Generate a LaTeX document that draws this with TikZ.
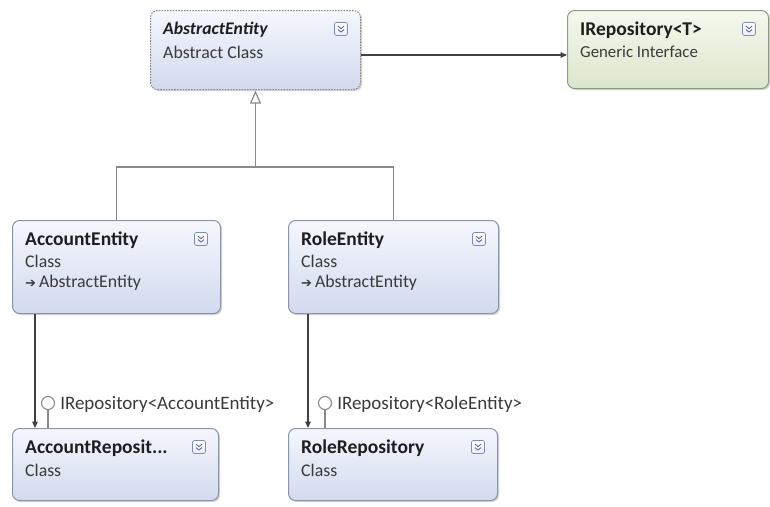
\documentclass[tikz,border=0pt]{standalone}
\usepackage{fontspec}
\setmainfont{Carlito}
\newfontfamily\symfont{DejaVu Sans}
\usetikzlibrary{arrows.meta,shadows,calc}

\definecolor{clstop}{HTML}{F5F7FD}
\definecolor{clsbot}{HTML}{D2DAEE}
\definecolor{clsline}{HTML}{8C95A8}
\definecolor{ifctop}{HTML}{F5F8EE}
\definecolor{ifcbot}{HTML}{DCE6CB}
\definecolor{ifcline}{HTML}{8E9886}
\definecolor{inkdark}{HTML}{1E1E1E}
\definecolor{inksoft}{HTML}{3A3A3A}
\definecolor{wire}{HTML}{8A8A8A}
\definecolor{wiredark}{HTML}{404040}
\definecolor{iconline}{HTML}{7E8CB8}

\tikzset{
  umlbox/.style={anchor=north west, inner sep=0pt, rounded corners=7pt,
    line width=1pt, draw=clsline, top color=clstop, bottom color=clsbot,
    drop shadow={shadow xshift=1.6pt, shadow yshift=-1.6pt, fill=black!30, opacity=.55}},
  abstractbox/.style={umlbox, draw=black!45, dash pattern=on 1.6pt off 1.2pt},
  ifcbox/.style={umlbox, draw=ifcline, top color=ifctop, bottom color=ifcbot},
  titletext/.style={anchor=west, inner sep=0pt, font=\bfseries\fontsize{19.5}{22}\selectfont, text=inkdark},
  subtext/.style={anchor=west, inner sep=0pt, font=\fontsize{17.8}{20}\selectfont, text=inksoft},
  lbltext/.style={anchor=west, inner sep=0pt, font=\fontsize{19}{21}\selectfont, text=inksoft},
  expander/.style={draw=iconline, line width=.7pt, rounded corners=2pt, minimum width=13pt,
    minimum height=13pt, inner sep=0pt, top color=white, bottom color=blue!8},
  chev/.style={draw=iconline!80!black, line width=.9pt},
  inh/.style={draw=wire, line width=1.6pt},
  assoc/.style={draw=wiredark, line width=1.5pt, -{Triangle[length=6.5pt,width=5.5pt]}},
  lolly/.style={circle, draw=wire, fill=white, line width=1.1pt, minimum size=13pt, inner sep=0pt},
  stick/.style={draw=wire, line width=1.5pt}
}

% collapse toggle in the top right corner of a box
\newcommand{\expandicon}[2]{%
  \node[expander] (#1) at ($(#2.north east)+(-20,19)$) {};
  \draw[chev] ($(#1.center)+(-3pt,2.8pt)$) -- ($(#1.center)+(0pt,0.4pt)$) -- ($(#1.center)+(3pt,2.8pt)$);
  \draw[chev] ($(#1.center)+(-3pt,-0.6pt)$) -- ($(#1.center)+(0pt,-3pt)$) -- ($(#1.center)+(3pt,-0.6pt)$);
}

\begin{document}
\begin{tikzpicture}[x=1pt,y=-1pt]
  \useasboundingbox[fill=white] (0,0) rectangle (770,506);

  % boxes
  \node[abstractbox, minimum width=210pt, minimum height=79pt] (abs) at (150,10) {};
  \node[ifcbox, minimum width=201pt, minimum height=78pt] (irep) at (567,10) {};
  \node[umlbox, minimum width=208pt, minimum height=93pt] (acc) at (12,220) {};
  \node[umlbox, minimum width=210pt, minimum height=93pt] (role) at (288,220) {};
  \node[umlbox, minimum width=206pt, minimum height=72pt] (accrepo) at (12,428) {};
  \node[umlbox, minimum width=209pt, minimum height=72pt] (rolerepo) at (288,428) {};

  % texts
  \node[titletext, font=\bfseries\itshape\fontsize{17.7}{20}\selectfont] (absT) at ($(abs.north west)+(13,20)$) {AbstractEntity};
  \node[subtext] (absS) at ($(abs.north west)+(13,42)$) {Abstract Class};

  \node[titletext] (irepT) at ($(irep.north west)+(13,20)$) {IRepository<T>};
  \node[subtext, font=\fontsize{16.8}{19}\selectfont] (irepS) at ($(irep.north west)+(13,42)$) {Generic Interface};

  \node[titletext] (accT) at ($(acc.north west)+(13,20)$) {AccountEntity};
  \node[subtext] (accS) at ($(acc.north west)+(13,41)$) {Class};
  \node[subtext] (accB) at ($(acc.north west)+(13,63)$) {{\symfont\fontsize{13}{14}\selectfont ➔}\,AbstractEntity};

  \node[titletext] (roleT) at ($(role.north west)+(13,20)$) {RoleEntity};
  \node[subtext] (roleS) at ($(role.north west)+(13,41)$) {Class};
  \node[subtext] (roleB) at ($(role.north west)+(13,63)$) {{\symfont\fontsize{13}{14}\selectfont ➔}\,AbstractEntity};

  \node[titletext] (accrepoT) at ($(accrepo.north west)+(13,20)$) {AccountReposit...};
  \node[subtext] (accrepoS) at ($(accrepo.north west)+(13,42)$) {Class};

  \node[titletext] (rolerepoT) at ($(rolerepo.north west)+(13,20)$) {RoleRepository};
  \node[subtext] (rolerepoS) at ($(rolerepo.north west)+(13,42)$) {Class};

  % expand toggles
  \expandicon{absI}{abs}
  \expandicon{irepI}{irep}
  \expandicon{accI}{acc}
  \expandicon{roleI}{role}
  \expandicon{accrepoI}{accrepo}
  \expandicon{rolerepoI}{rolerepo}

  % generalization tree
  \coordinate (junc) at (abs.south |- 0,167);
  \draw[inh] (acc.north) |- (junc) -| (role.north);
  \draw[inh, -{Triangle[open, length=13pt, width=11pt, line width=1.2pt]}, shorten >=0.5pt] (junc) -- (abs.south);

  % association to the generic interface
  \draw[assoc] (abs.east |- 0,55) -- (irep.west |- 0,55);

  % associations to repositories
  \coordinate (accOut) at ($(acc.south west)+(23,0)$);
  \coordinate (roleOut) at ($(role.south west)+(20,0)$);
  \draw[assoc] (accOut) -- (accOut |- accrepo.north);
  \draw[assoc] (roleOut) -- (roleOut |- rolerepo.north);

  % realized interfaces (lollipops)
  \node[lolly] (accL) at (48,403) {};
  \draw[stick] (accL.south) -- (accL.south |- accrepo.north);
  \node[lbltext] (accLT) at ($(accL.east)+(5,1)$) {IRepository<AccountEntity>};

  \node[lolly] (roleL) at (325,403) {};
  \draw[stick] (roleL.south) -- (roleL.south |- rolerepo.north);
  \node[lbltext] (roleLT) at ($(roleL.east)+(5,1)$) {IRepository<RoleEntity>};
\end{tikzpicture}
\end{document}
